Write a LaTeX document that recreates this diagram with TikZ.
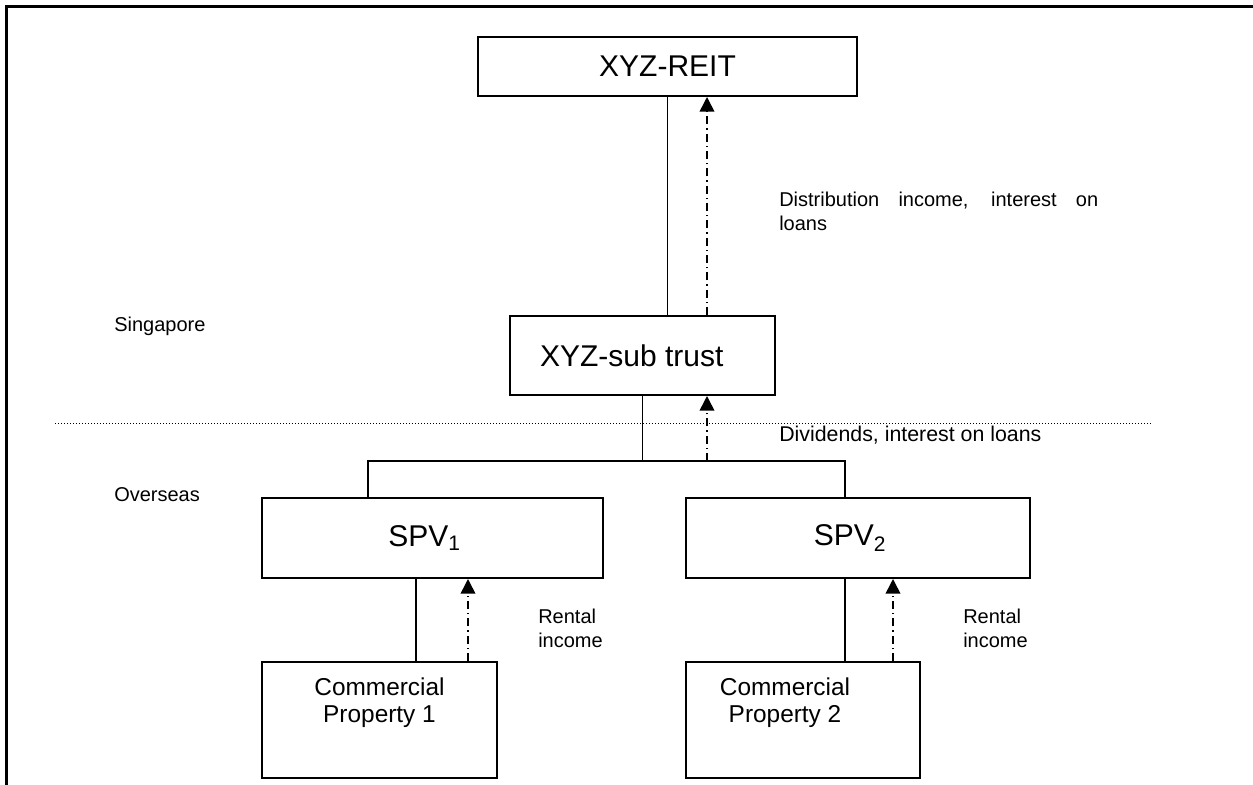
\documentclass[tikz,border=0pt]{standalone}
\usepackage{fontspec}
\setmainfont{Liberation Sans}
\usetikzlibrary{arrows.meta,positioning}

\begin{document}
\begin{tikzpicture}[x=0.75pt,y=-0.75pt,line join=miter,
	entity/.style={draw,line width=1.5pt,inner sep=0pt,font=\fontsize{22.5}{27}\selectfont},
	cptext/.style={inner sep=0pt,align=center,font=\fontsize{18.3}{20}\selectfont},
	link/.style={line width=1.2pt},
	flow/.style={line width=1.2pt,dash pattern=on 6pt off 3pt on 1pt off 3pt,-{Triangle[length=11pt,width=11pt]}},
	note/.style={inner sep=0pt,font=\fontsize{15}{18}\selectfont}]
	\useasboundingbox (0,0) rectangle (1253,785);
	% frame
	\draw [line width=2.25pt] (1253,6) -- (6,6) -- (6,785);

	% boxes
	\node [entity,minimum width=284.25pt,minimum height=44.25pt] (reit) at (667.5,66.5) {XYZ-REIT};
	\node [entity,minimum width=198.75pt,minimum height=59.25pt] (trust) at (642.5,355.5) {XYZ-sub trust\hspace*{16pt}};
	\node [entity,minimum width=255.75pt,minimum height=60pt] (spv1) at (432.5,538) {SPV\textsubscript{1}\hspace*{12pt}};
	\node [entity,minimum width=258pt,minimum height=60pt] (spv2) at (858,538) {SPV\textsubscript{2}\hspace*{12pt}};
	\node [entity,minimum width=176.25pt,minimum height=87pt] (cp1) at (379.5,720) {};
	\node [entity,minimum width=175.5pt,minimum height=87pt] (cp2) at (803,720) {};
	\node [cptext,below=12.75pt of cp1.north] (cp1text) {Commercial\\Property 1};
	\node [cptext,below=12.75pt of cp2.north,xshift=-13.5pt] (cp2text) {Commercial\\Property 2};

	% border Singapore / overseas
	\draw [line width=0.75pt,dash pattern=on 0.75pt off 1.5pt] (55,423) -- (1153,423);

	% connectors
	\coordinate (busL) at (368,461);
	\coordinate (busR) at (845,461);
	\coordinate (up0) at (707,461);
	\coordinate (up1) at (468,620);
	\coordinate (up2) at (893,620);
	\coordinate (own1) at (416,620);
	\draw [link] (reit.south) -- (reit.south |- trust.north);
	\draw [flow] (trust.north -| up0) -- (reit.south -| up0);
	\draw [link] (trust.south) -- (trust.south |- busL);
	\draw [link] (busL |- spv1.north) -- (busL) -- (busR) -- (busR |- spv2.north);
	\draw [flow] (up0) -- (up0 |- trust.south);
	\draw [link] (spv1.south -| own1) -- (cp1.north -| own1);
	\draw [flow] (cp1.north -| up1) -- (spv1.south -| up1);
	\draw [link] (spv2.south -| busR) -- (cp2.north -| busR);
	\draw [flow] (cp2.north -| up2) -- (spv2.south -| up2);

	% labels
	\node [note,anchor=north west,text width=239.25pt,align=justify] (distnote) at (779,191.5) {Distribution income, interest on loans};
	\node [note,anchor=base west] (sgnote) at (114,331) {Singapore};
	\node [note,anchor=base west] (osnote) at (114,501) {Overseas};
	\node [note,anchor=base west,font=\fontsize{16}{19}\selectfont] (divnote) at (779,441) {Dividends, interest on loans};
	\node [note,anchor=north west,align=left] (rent1) at (538,609) {Rental\\income};
	\node [note,anchor=north west,align=left] (rent2) at (963,609) {Rental\\income};
\end{tikzpicture}
\end{document}
